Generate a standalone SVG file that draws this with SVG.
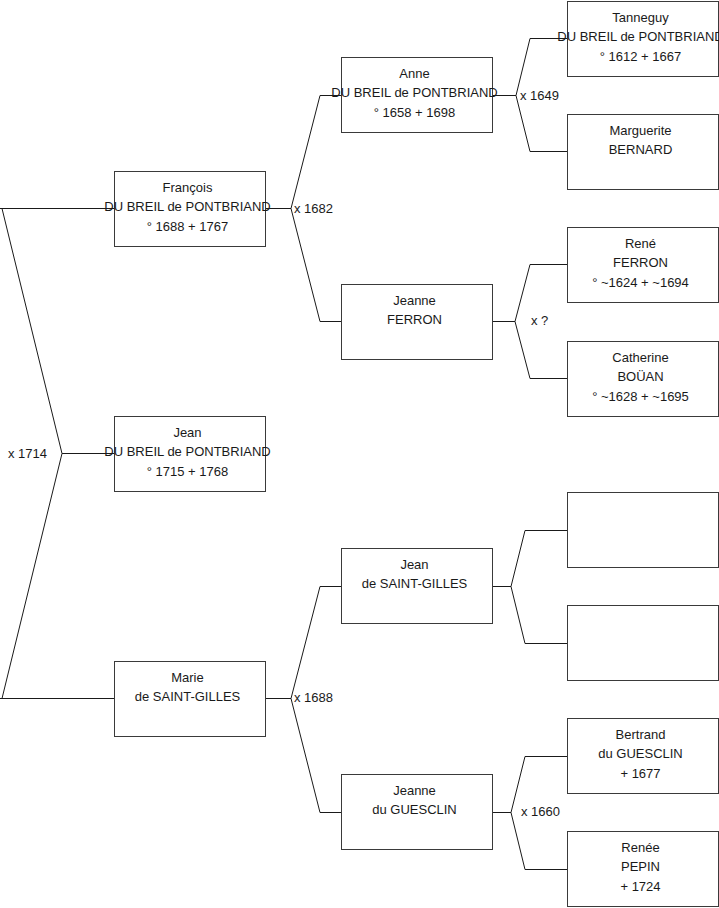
<svg xmlns="http://www.w3.org/2000/svg" width="719" height="908" viewBox="0 0 719 908">
<style>
.bg{fill:#ffffff}
.box{fill:#ffffff;stroke:#3a3a3a;stroke-width:1}
.ln{fill:none;stroke:#1a1a1a;stroke-width:1}
text{font-family:"Liberation Sans",Arial,sans-serif;font-size:13px;fill:#1a1a1a}
.c{text-anchor:middle}
</style>
<rect class="bg" x="0" y="0" width="719" height="908"/>
<g id="connectors">
<path class="ln" d="M0,208.5H114M2,208.5L62,453.5L2,698.5M0,698.5H114M62,453.5H114"/>
<path class="ln" d="M265,208.5H291M341,95.5H320L291,208.5L320,321.5H341"/>
<path class="ln" d="M265,698.5H291M341,586.5H320L291,698.5L320,812.5H341"/>
<path class="ln" d="M492,95.5H516M567,38.5H530L516,95.5L530,151.5H567"/>
<path class="ln" d="M492,321.5H515M567,264.5H530L515,321.5L530,378.5H567"/>
<path class="ln" d="M492,586.5H511M567,530.5H525L511,586.5L525,643.5H567"/>
<path class="ln" d="M492,812.5H511M567,756.5H525L511,812.5L525,869.5H567"/>
<text x="8" y="457.5">x 1714</text>
<text x="294" y="212.5">x 1682</text>
<text x="294" y="702">x 1688</text>
<text x="520" y="100">x 1649</text>
<text x="531" y="324.5">x ?</text>
<text x="521" y="816">x 1660</text>
</g>
<g id="francois" transform="translate(114.5,171.5)"><rect class="box" width="151" height="75"/><text class="c" x="73" y="20">François</text><text class="c" x="73" y="39.5">DU BREIL de PONTBRIAND</text><text class="c" x="73" y="59">° 1688 + 1767</text></g>
<g id="jean" transform="translate(114.5,416.5)"><rect class="box" width="151" height="75"/><text class="c" x="73" y="20">Jean</text><text class="c" x="73" y="39.5">DU BREIL de PONTBRIAND</text><text class="c" x="73" y="59">° 1715 + 1768</text></g>
<g id="marie" transform="translate(114.5,661.5)"><rect class="box" width="151" height="75"/><text class="c" x="73" y="20">Marie</text><text class="c" x="73" y="39.5">de SAINT-GILLES</text></g>
<g id="anne" transform="translate(341.5,57.5)"><rect class="box" width="151" height="75"/><text class="c" x="73" y="20">Anne</text><text class="c" x="73" y="39.5">DU BREIL de PONTBRIAND</text><text class="c" x="73" y="59">° 1658 + 1698</text></g>
<g id="jeanne-ferron" transform="translate(341.5,284.5)"><rect class="box" width="151" height="75"/><text class="c" x="73" y="20">Jeanne</text><text class="c" x="73" y="39.5">FERRON</text></g>
<g id="jean-saint-gilles" transform="translate(341.5,548.5)"><rect class="box" width="151" height="75"/><text class="c" x="73" y="20">Jean</text><text class="c" x="73" y="39.5">de SAINT-GILLES</text></g>
<g id="jeanne-guesclin" transform="translate(341.5,774.5)"><rect class="box" width="151" height="75"/><text class="c" x="73" y="20">Jeanne</text><text class="c" x="73" y="39.5">du GUESCLIN</text></g>
<g id="tanneguy" transform="translate(567.5,1.5)"><rect class="box" width="151" height="75"/><text class="c" x="73" y="20">Tanneguy</text><text class="c" x="73" y="39.5">DU BREIL de PONTBRIAND</text><text class="c" x="73" y="59">° 1612 + 1667</text></g>
<g id="marguerite" transform="translate(567.5,114.5)"><rect class="box" width="151" height="75"/><text class="c" x="73" y="20">Marguerite</text><text class="c" x="73" y="39.5">BERNARD</text></g>
<g id="rene" transform="translate(567.5,227.5)"><rect class="box" width="151" height="75"/><text class="c" x="73" y="20">René</text><text class="c" x="73" y="39.5">FERRON</text><text class="c" x="73" y="59">° ~1624 + ~1694</text></g>
<g id="catherine" transform="translate(567.5,341.5)"><rect class="box" width="151" height="75"/><text class="c" x="73" y="20">Catherine</text><text class="c" x="73" y="39.5">BOÜAN</text><text class="c" x="73" y="59">° ~1628 + ~1695</text></g>
<g id="empty1" transform="translate(567.5,492.5)"><rect class="box" width="151" height="75"/></g>
<g id="empty2" transform="translate(567.5,605.5)"><rect class="box" width="151" height="75"/></g>
<g id="bertrand" transform="translate(567.5,718.5)"><rect class="box" width="151" height="75"/><text class="c" x="73" y="20">Bertrand</text><text class="c" x="73" y="39.5">du GUESCLIN</text><text class="c" x="73" y="59">+ 1677</text></g>
<g id="renee" transform="translate(567.5,831.5)"><rect class="box" width="151" height="75"/><text class="c" x="73" y="20">Renée</text><text class="c" x="73" y="39.5">PEPIN</text><text class="c" x="73" y="59">+ 1724</text></g>
</svg>
